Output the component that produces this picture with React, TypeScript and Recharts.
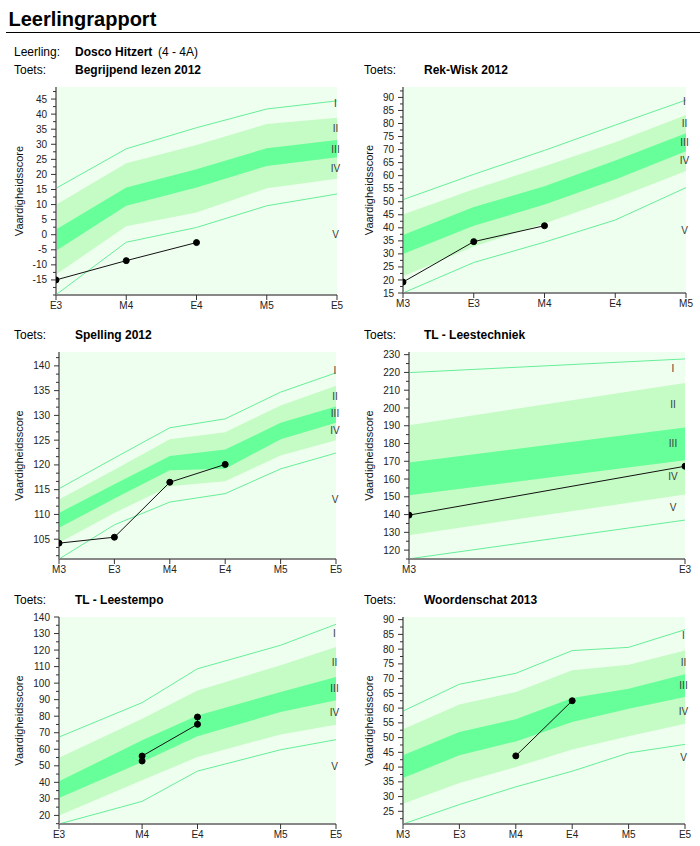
import React from "react";
import { ComposedChart, Area, Line, XAxis, YAxis, CartesianGrid, ReferenceDot } from "recharts";

const FONT = "Arial, 'Liberation Sans', sans-serif";
const BG = "#efffef";
const LIGHT = "#c5fcc5";
const DARK = "#66ff99";
const EDGE = "#66ee99";
const ROMAN = ["I", "II", "III", "IV", "V"];
const TICK_LEN = 6;
const TICK_GAP = 3;

// Begrijpend lezen 2012
const BL_MOMENTS = ["E3", "M4", "E4", "M5", "E5"];
const BL_POS = [0, 1, 2, 3, 4];
const BL_LINE_I = [15.4, 28.5, 35.5, 41.7, 44.4];
const BL_LIGHT_TOP = [9.9, 23.7, 29.8, 36.7, 38.8];
const BL_DARK_TOP = [1.7, 15.7, 21.7, 28.7, 31.4];
const BL_DARK_BOTTOM = [-5.3, 9.6, 15.7, 22.8, 25.7];
const BL_LIGHT_BOTTOM = [-13.2, 2.8, 7.4, 15.4, 18.6];
const BL_LINE_V = [-19.9, -2.5, 2.4, 9.6, 13.5];
const BL_STUDENT_AT = ["E3", "M4", "E4"];
const BL_STUDENT = [-15, -8.6, -2.6];
const BL_ROMAN_Y = [43.6, 35.2, 28.3, 21.9, 0];
const BL_TICKS = [-15, -10, -5, 0, 5, 10, 15, 20, 25, 30, 35, 40, 45];

// Rek-Wisk 2012
const RW_MOMENTS = ["M3", "E3", "M4", "E4", "M5"];
const RW_POS = [0, 1, 2, 3, 4];
const RW_LINE_I = [50.8, 60.5, 69.7, 79.4, 89];
const RW_LIGHT_TOP = [45.1, 54.8, 63.6, 72.8, 83.3];
const RW_DARK_TOP = [37.2, 48, 55.9, 65.8, 76.3];
const RW_DARK_BOTTOM = [30, 40.8, 48.9, 58.5, 69.4];
const RW_LIGHT_BOTTOM = [21.4, 32.8, 41.7, 51.2, 61.8];
const RW_LINE_V = [15, 26.7, 34.5, 43, 55.4];
const RW_STUDENT_AT = ["M3", "E3", "M4"];
const RW_STUDENT = [19.2, 34.7, 40.8];
const RW_ROMAN_Y = [88.3, 80, 72.8, 65.7, 39];
const RW_TICKS = [15, 20, 25, 30, 35, 40, 45, 50, 55, 60, 65, 70, 75, 80, 85, 90];

// Spelling 2012
const SP_MOMENTS = ["M3", "E3", "M4", "E4", "M5", "E5"];
const SP_POS = [0, 1, 2, 3, 4, 5];
const SP_LINE_I = [115.2, 121.4, 127.5, 129.3, 134.7, 138.6];
const SP_LIGHT_TOP = [113, 119, 125.2, 126.6, 132, 136];
const SP_DARK_TOP = [110.3, 116.1, 121.8, 123.1, 128.5, 131.8];
const SP_DARK_BOTTOM = [107.3, 113.2, 118.9, 119.2, 125.2, 128.5];
const SP_LIGHT_BOTTOM = [104.3, 110.3, 115.7, 116.7, 121.9, 125];
const SP_LINE_V = [101, 107.9, 112.5, 114.2, 119.2, 122.4];
const SP_STUDENT_AT = ["M3", "E3", "M4", "E4"];
const SP_STUDENT = [104.2, 105.4, 116.5, 120.1];
const SP_ROMAN_Y = [139, 133.9, 130.4, 127, 113.1];
const SP_TICKS = [105, 110, 115, 120, 125, 130, 135, 140];

// TL - Leestechniek
const LT_MOMENTS = ["M3", "E3"];
const LT_POS = [0, 1];
const LT_LINE_I = [219.9, 227.6];
const LT_LIGHT_TOP = [190.3, 214.1];
const LT_DARK_TOP = [169.3, 189];
const LT_DARK_BOTTOM = [150.9, 170.6];
const LT_LIGHT_BOTTOM = [128.4, 151.3];
const LT_LINE_V = [115.1, 136.9];
const LT_STUDENT_AT = ["M3", "E3"];
const LT_STUDENT = [139.7, 167.2];
const LT_ROMAN_Y = [222.5, 201.9, 180.3, 161.6, 143.8];
const LT_TICKS = [120, 130, 140, 150, 160, 170, 180, 190, 200, 210, 220, 230];

// TL - Leestempo (moments not evenly spaced)
const TE_MOMENTS = ["E3", "M4", "E4", "M5", "E5"];
const TE_POS = [0, 3, 5, 8, 10];
const TE_LINE_I = [67.4, 88.2, 108.7, 122.9, 135.6];
const TE_LIGHT_TOP = [54.9, 78.5, 95.6, 110.8, 121.8];
const TE_DARK_TOP = [40.6, 65.4, 80.5, 94.6, 103.7];
const TE_DARK_BOTTOM = [30.5, 52.3, 67.8, 82.5, 89.6];
const TE_LIGHT_BOTTOM = [20, 41.2, 55.3, 69, 74.9];
const TE_LINE_V = [14.8, 28.5, 46.8, 59.7, 65.8];
const TE_STUDENT_AT = ["M4", "M4", "E4", "E4"];
const TE_STUDENT = [52.9, 55.9, 75.1, 79.5];
const TE_ROMAN_Y = [129.9, 112.8, 96.6, 82.5, 49.6];
const TE_TICKS = [20, 30, 40, 50, 60, 70, 80, 90, 100, 110, 120, 130, 140];

// Woordenschat 2013
const WS_MOMENTS = ["M3", "E3", "M4", "E4", "M5", "E5"];
const WS_POS = [0, 1, 2, 3, 4, 5];
const WS_LINE_I = [59, 68.1, 71.8, 79.5, 80.6, 86.6];
const WS_LIGHT_TOP = [52.8, 61.2, 65.5, 72.8, 74.7, 79.5];
const WS_DARK_TOP = [44, 51.9, 56.2, 63.4, 66.6, 71.5];
const WS_DARK_BOTTOM = [36.3, 44, 48.7, 55.3, 59.8, 63.8];
const WS_LIGHT_BOTTOM = [27.6, 34.6, 40, 46, 50.5, 54.7];
const WS_LINE_V = [20.7, 27.3, 33.3, 38.6, 44.8, 47.7];
const WS_STUDENT_AT = ["M4", "E4"];
const WS_STUDENT = [43.8, 62.5];
const WS_ROMAN_Y = [84.7, 75.6, 67.7, 59, 43.1];
const WS_TICKS = [25, 30, 35, 40, 45, 50, 55, 60, 65, 70, 75, 80, 85, 90];

// major ticks plus the small in-between ones, kept inside the domain
function withMinor(majors: number[], minorPer: number, domain: [number, number]) {
  const step = (majors[1] - majors[0]) / (minorPer + 1);
  const out: number[] = [];
  let k = Math.ceil((domain[0] - majors[0]) / step - 1e-6);
  for (; majors[0] + k * step <= domain[1] + 1e-6; k++) out.push(+(majors[0] + k * step).toFixed(4));
  return out;
}

function YTick(props: any) {
  const { x, y, payload, majors } = props;
  const major = majors.some((m: number) => Math.abs(m - payload.value) < 1e-6);
  const edge = x + TICK_GAP + TICK_LEN;
  return (
    <g>
      <line x1={edge - (major ? 5 : 3)} x2={edge} y1={y} y2={y} stroke="#333" />
      {major && (
        <text x={x} y={y} dy="0.355em" textAnchor="end" fontSize={10} fill="#222">
          {payload.value}
        </text>
      )}
    </g>
  );
}

function YLabel(props: any) {
  const vb = props.viewBox;
  const cx = vb.x + 18.5;
  const cy = vb.y + vb.height / 2;
  return (
    <text x={cx} y={cy} transform={`rotate(-90 ${cx} ${cy})`} textAnchor="middle" dominantBaseline="central" fontSize={11} fill="#111">
      Vaardigheidsscore
    </text>
  );
}

type Box = { left: number; top: number; height: number; yWidth: number; right: number; romanDx: number };

function BandChart(p: {
  moments: string[]; pos: number[];
  lineI: number[]; lightTop: number[]; darkTop: number[]; darkBottom: number[]; lightBottom: number[]; lineV: number[];
  studentAt: string[]; student: number[]; romanY: number[];
  ticks: number[]; minorPer: number; domain: [number, number]; box: Box;
}) {
  const table = p.pos.map((x, i) => ({
    x,
    top: p.lineI[i],
    light: [p.lightBottom[i], p.lightTop[i]],
    dark: [p.darkBottom[i], p.darkTop[i]],
    bottom: p.lineV[i],
  }));
  const scores = p.studentAt.map((m, i) => ({ x: p.pos[p.moments.indexOf(m)], score: p.student[i] }));
  const lastX = p.pos[p.pos.length - 1];
  const b = p.box;
  return (
    <div style={{ position: "absolute", left: b.left, top: b.top }}>
      <ComposedChart width={350} height={b.height} data={table} margin={{ top: 7, right: b.right, left: 0, bottom: 0 }}>
        <CartesianGrid fill={BG} stroke="none" horizontal={false} vertical={false} />
        <XAxis
          dataKey="x" type="number" domain={[p.pos[0], lastX]} ticks={p.pos} interval={0} allowDataOverflow
          tickFormatter={(v: number) => p.moments[p.pos.indexOf(v)]}
          height={20} tickSize={5} tickMargin={2}
          tick={{ fontSize: 10, fill: "#222" }}
          tickLine={{ stroke: "#333" }}
          axisLine={{ stroke: "#888", strokeWidth: 2 }}
        />
        <YAxis
          type="number" domain={p.domain} allowDataOverflow interval={0}
          ticks={withMinor(p.ticks, p.minorPer, p.domain)}
          width={b.yWidth} tickSize={TICK_LEN} tickMargin={TICK_GAP} tickLine={false}
          tick={<YTick majors={p.ticks} />}
          axisLine={{ stroke: "#888", strokeWidth: 2 }}
          label={{ value: "Vaardigheidsscore", content: YLabel }}
        />
        <Area dataKey="light" type="linear" fill={LIGHT} fillOpacity={1} stroke="none" isAnimationActive={false} dot={false} activeDot={false} />
        <Area dataKey="dark" type="linear" fill={DARK} fillOpacity={1} stroke="none" isAnimationActive={false} dot={false} activeDot={false} />
        <Line dataKey="top" type="linear" stroke={EDGE} strokeWidth={1} dot={false} activeDot={false} isAnimationActive={false} />
        <Line dataKey="bottom" type="linear" stroke={EDGE} strokeWidth={1} dot={false} activeDot={false} isAnimationActive={false} />
        <Line
          data={scores} dataKey="score" type="linear" stroke="#111" strokeWidth={1}
          dot={{ r: 3, fill: "#000", stroke: "#000", strokeWidth: 1 }} activeDot={false} isAnimationActive={false}
        />
        {p.romanY.map((v, i) => (
          <ReferenceDot
            key={i} x={lastX} y={v} r={0} ifOverflow="visible"
            shape={(s: any) => (
              <text x={s.cx + b.romanDx} y={s.cy} dy="0.355em" textAnchor="middle" fontSize={10} fill="#3a3a3a">
                {ROMAN[i]}
              </text>
            )}
          />
        ))}
      </ComposedChart>
    </div>
  );
}

export default function App() {
  return (
    <div style={{ position: "absolute", left: 0, top: 0, width: 700, height: 846, background: "#fff", fontFamily: FONT }}>
      <svg width={700} height={846} style={{ position: "absolute", left: 0, top: 0 }} fontFamily={FONT}>
        <text x={8.5} y={26} fontSize={20} fontWeight="bold" fill="#000">Leerlingrapport</text>
        <line x1={6} x2={700} y1={32.5} y2={32.5} stroke="#000" strokeWidth={1} />
        <text x={14} y={55.5} fontSize={12} fill="#000">Leerling:</text>
        <text x={75} y={55.5} fontSize={12} fontWeight="bold" fill="#000">Dosco Hitzert</text>
        <text x={158} y={55.5} fontSize={12} fill="#000">(4 - 4A)</text>
        <text x={14} y={74} fontSize={12} fill="#000">Toets:</text>
        <text x={75} y={74} fontSize={12} fontWeight="bold" fill="#000">Begrijpend lezen 2012</text>
        <text x={364} y={74} fontSize={12} fill="#000">Toets:</text>
        <text x={424} y={74} fontSize={12} fontWeight="bold" fill="#000">Rek-Wisk 2012</text>
        <text x={14} y={338.5} fontSize={12} fill="#000">Toets:</text>
        <text x={75} y={338.5} fontSize={12} fontWeight="bold" fill="#000">Spelling 2012</text>
        <text x={364} y={338.5} fontSize={12} fill="#000">Toets:</text>
        <text x={424} y={338.5} fontSize={12} fontWeight="bold" fill="#000">TL - Leestechniek</text>
        <text x={14} y={603.5} fontSize={12} fill="#000">Toets:</text>
        <text x={75} y={603.5} fontSize={12} fontWeight="bold" fill="#000">TL - Leestempo</text>
        <text x={364} y={603.5} fontSize={12} fill="#000">Toets:</text>
        <text x={424} y={603.5} fontSize={12} fontWeight="bold" fill="#000">Woordenschat 2013</text>
      </svg>

      <BandChart
        moments={BL_MOMENTS} pos={BL_POS} lineI={BL_LINE_I} lightTop={BL_LIGHT_TOP} darkTop={BL_DARK_TOP}
        darkBottom={BL_DARK_BOTTOM} lightBottom={BL_LIGHT_BOTTOM} lineV={BL_LINE_V}
        studentAt={BL_STUDENT_AT} student={BL_STUDENT} romanY={BL_ROMAN_Y}
        ticks={BL_TICKS} minorPer={1} domain={[-20, 49]}
        box={{ left: 0, top: 80, height: 235, yWidth: 56, right: 13, romanDx: -1.5 }}
      />
      <BandChart
        moments={RW_MOMENTS} pos={RW_POS} lineI={RW_LINE_I} lightTop={RW_LIGHT_TOP} darkTop={RW_DARK_TOP}
        darkBottom={RW_DARK_BOTTOM} lightBottom={RW_LIGHT_BOTTOM} lineV={RW_LINE_V}
        studentAt={RW_STUDENT_AT} student={RW_STUDENT} romanY={RW_ROMAN_Y}
        ticks={RW_TICKS} minorPer={1} domain={[15, 94]}
        box={{ left: 350, top: 80, height: 233, yWidth: 53, right: 14, romanDx: -1.5 }}
      />
      <BandChart
        moments={SP_MOMENTS} pos={SP_POS} lineI={SP_LINE_I} lightTop={SP_LIGHT_TOP} darkTop={SP_DARK_TOP}
        darkBottom={SP_DARK_BOTTOM} lightBottom={SP_LIGHT_BOTTOM} lineV={SP_LINE_V}
        studentAt={SP_STUDENT_AT} student={SP_STUDENT} romanY={SP_ROMAN_Y}
        ticks={SP_TICKS} minorPer={2} domain={[101, 142.8]}
        box={{ left: 0, top: 345, height: 234, yWidth: 59, right: 14, romanDx: -1 }}
      />
      <BandChart
        moments={LT_MOMENTS} pos={LT_POS} lineI={LT_LINE_I} lightTop={LT_LIGHT_TOP} darkTop={LT_DARK_TOP}
        darkBottom={LT_DARK_BOTTOM} lightBottom={LT_LIGHT_BOTTOM} lineV={LT_LINE_V}
        studentAt={LT_STUDENT_AT} student={LT_STUDENT} romanY={LT_ROMAN_Y}
        ticks={LT_TICKS} minorPer={1} domain={[115, 231.5]}
        box={{ left: 350, top: 345, height: 234, yWidth: 59, right: 15, romanDx: -12 }}
      />
      <BandChart
        moments={TE_MOMENTS} pos={TE_POS} lineI={TE_LINE_I} lightTop={TE_LIGHT_TOP} darkTop={TE_DARK_TOP}
        darkBottom={TE_DARK_BOTTOM} lightBottom={TE_LIGHT_BOTTOM} lineV={TE_LINE_V}
        studentAt={TE_STUDENT_AT} student={TE_STUDENT} romanY={TE_ROMAN_Y}
        ticks={TE_TICKS} minorPer={1} domain={[14.8, 140]}
        box={{ left: 0, top: 610, height: 234, yWidth: 59, right: 14, romanDx: -1.5 }}
      />
      <BandChart
        moments={WS_MOMENTS} pos={WS_POS} lineI={WS_LINE_I} lightTop={WS_LIGHT_TOP} darkTop={WS_DARK_TOP}
        darkBottom={WS_DARK_BOTTOM} lightBottom={WS_LIGHT_BOTTOM} lineV={WS_LINE_V}
        studentAt={WS_STUDENT_AT} student={WS_STUDENT} romanY={WS_ROMAN_Y}
        ticks={WS_TICKS} minorPer={1} domain={[20.7, 90.9]}
        box={{ left: 350, top: 610, height: 234, yWidth: 53, right: 15, romanDx: -1.5 }}
      />
    </div>
  );
}
